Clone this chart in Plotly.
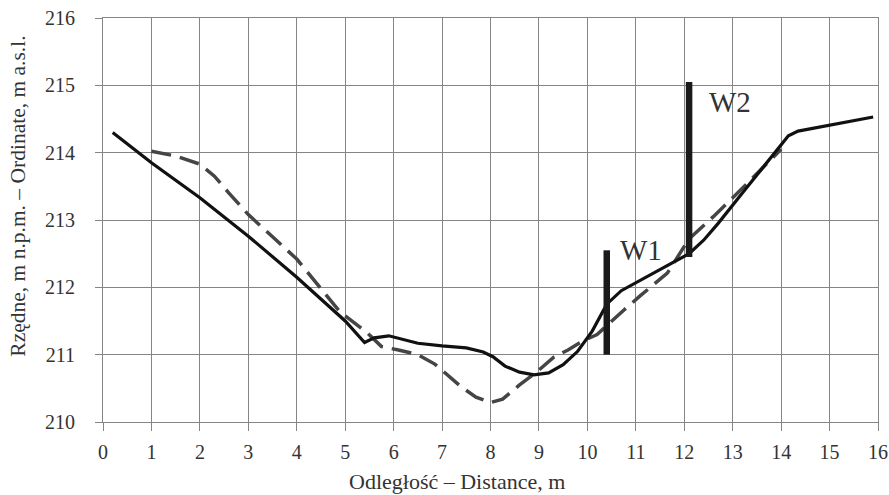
import plotly.graph_objects as go

# Solid profile (measured)
solid_x = [0.2, 1.0, 2.0, 3.0, 4.0, 5.0, 5.4, 5.6, 5.9, 6.2, 6.5, 7.0, 7.5, 7.85, 8.05, 8.3, 8.6, 8.9,
           9.2, 9.5, 9.8, 10.1, 10.4, 10.7, 11.2, 11.7, 12.1, 12.4, 12.7, 13.2, 13.7, 14.15, 14.35, 15.9]
solid_y = [214.3, 213.85, 213.33, 212.76, 212.15, 211.5, 211.18, 211.25, 211.28, 211.22, 211.17, 211.13,
           211.1, 211.04, 210.97, 210.83, 210.74, 210.7, 210.73, 210.85, 211.05, 211.35, 211.75, 211.95,
           212.15, 212.35, 212.5, 212.7, 212.95, 213.4, 213.85, 214.25, 214.32, 214.53]

# Dashed profile
dash_x = [1.0, 1.5, 2.0, 2.3, 2.6, 3.0, 3.5, 4.0, 4.5, 4.9, 5.45, 5.75, 6.1, 6.5, 6.85, 7.1, 7.4, 7.7,
          8.0, 8.25, 8.6, 8.95, 9.3, 9.6, 9.9, 10.2, 10.45, 10.75, 11.1, 11.65, 12.1, 12.6, 13.1, 13.75, 14.0]
dash_y = [214.02, 213.95, 213.83, 213.65, 213.4, 213.08, 212.75, 212.42, 211.98, 211.63, 211.33, 211.12,
          211.07, 211.0, 210.86, 210.7, 210.52, 210.37, 210.29, 210.34, 210.55, 210.74, 210.96, 211.07,
          211.2, 211.3, 211.47, 211.66, 211.88, 212.21, 212.72, 213.05, 213.4, 213.86, 214.05]

# Wells
w1_x = [10.4, 10.4]
w1_y = [211.0, 212.55]
w2_x = [12.1, 12.1]
w2_y = [212.45, 215.05]
w_labels = ["W1", "W2"]
w_label_x = [11.1, 12.95]
w_label_y = [212.55, 214.75]

x_ticks = list(range(0, 17))
y_ticks = list(range(210, 217))

FONT = "'Liberation Serif', 'Times New Roman', Times, serif"
fig = go.Figure()
fig.add_trace(go.Scatter(x=dash_x, y=dash_y, mode="lines",
                         line=dict(color="#454545", width=3.5, dash="20px,9px")))
fig.add_trace(go.Scatter(x=solid_x, y=solid_y, mode="lines",
                         line=dict(color="#111111", width=3.2)))
fig.add_trace(go.Scatter(x=w1_x, y=w1_y, mode="lines", line=dict(color="#1a1a1a", width=6.5)))
fig.add_trace(go.Scatter(x=w2_x, y=w2_y, mode="lines", line=dict(color="#1a1a1a", width=6.5)))

for t, lx, ly in zip(w_labels, w_label_x, w_label_y):
    fig.add_annotation(x=lx, y=ly, text=t, showarrow=False, xanchor="center", yanchor="middle",
                       font=dict(family=FONT, size=29, color="#333333"))

fig.add_annotation(xref="paper", yref="paper", x=0.457, y=-0.148, text="Odległość – Distance, m",
                   showarrow=False, xanchor="center", yanchor="middle",
                   font=dict(family=FONT, size=22, color="#333333"))
fig.add_annotation(xref="paper", yref="paper", x=-0.109, y=0.559,
                   text="Rzędne, m n.p.m. – Ordinate, m a.s.l.", textangle=-90,
                   showarrow=False, xanchor="center", yanchor="middle",
                   font=dict(family=FONT, size=21.5, color="#333333"))

fig.update_layout(
    width=889, height=495,
    margin=dict(l=103, r=11, t=18, b=73, autoexpand=False),
    paper_bgcolor="white", plot_bgcolor="white",
    showlegend=False,
    font=dict(family=FONT, size=20, color="#333333"),
)
fig.update_xaxes(range=[0, 16], tickvals=x_ticks, showgrid=True, gridcolor="#858585", gridwidth=1,
                 showline=True, linecolor="#858585", linewidth=1, mirror=True, automargin=False,
                 ticks="outside", ticklen=8, tickcolor="#858585", ticklabelstandoff=4,
                 ticklabeloverflow="allow",
                 zeroline=False, tickfont=dict(family=FONT, size=20, color="#333333"))
fig.update_yaxes(range=[210, 216], tickvals=y_ticks, showgrid=True, gridcolor="#858585", gridwidth=1,
                 showline=True, linecolor="#858585", linewidth=1, mirror=True, automargin=False,
                 ticks="outside", ticklen=7, tickcolor="#858585", ticklabelstandoff=16,
                 ticklabeloverflow="allow",
                 zeroline=False, tickfont=dict(family=FONT, size=20, color="#333333"))

fig.write_html("out.html", config={"displayModeBar": False},
               post_script="document.body.style.margin='0';document.body.style.overflow='hidden';")
